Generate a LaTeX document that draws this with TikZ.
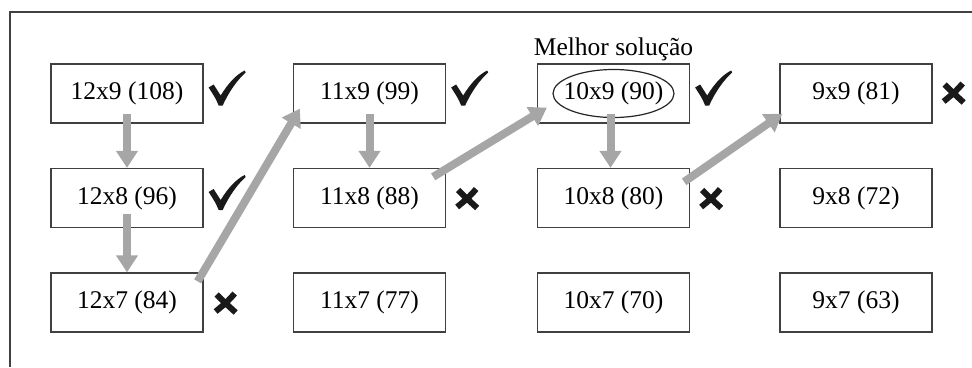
\documentclass[tikz,border=0pt]{standalone}
\usepackage{fontspec}
\setmainfont{Liberation Serif}
\usetikzlibrary{arrows.meta,calc}
\begin{document}
\begin{tikzpicture}[x=1pt,y=-1pt,
  cell/.style={draw=black!75,line width=1.3pt,minimum width=152pt,minimum height=59pt,inner sep=0pt,font=\fontsize{25.5}{28}\selectfont},
  garrow/.style={draw=black!35,line width=8pt,-{Triangle[width=21pt,length=17pt]}},
  okpic/.pic={\fill[black!90] (-18,-1) .. controls (-16,-3) .. (-13,-4) -- (-6,7) .. controls (2,-6) and (10,-14) .. (18,-18) -- (19,-16) .. controls (10,-8) and (2,4) .. (-4,17) -- (-8,17) .. controls (-11,10) .. cycle;},
  nopic/.pic={\draw[black!90,line width=6pt] (-9,-8) .. controls (-2,-1) .. (10,10) (9,-9) .. controls (2,-1) .. (-10,9);}]
\useasboundingbox (0,0) rectangle (972,367);
\draw[black!75,line width=1.8pt] (10,367) -- (10,12) -- (972,12);
% boxes
\node[cell] (a9) at (127,93.5) {12x9 (108)};
\node[cell] (a8) at (127,198) {12x8 (96)};
\node[cell] (a7) at (127,302.5) {12x7 (84)};
\node[cell] (b9) at (369.5,93.5) {11x9 (99)};
\node[cell] (b8) at (369.5,198) {11x8 (88)};
\node[cell] (b7) at (369.5,302.5) {11x7 (77)};
\node[cell] (c9) at (613.5,93.5) {10x9 (90)};
\node[cell] (c8) at (613.5,198) {10x8 (80)};
\node[cell] (c7) at (613.5,302.5) {10x7 (70)};
\node[cell] (d9) at (856,93.5) {9x9 (81)};
\node[cell] (d8) at (856,198) {9x8 (72)};
\node[cell] (d7) at (856,302.5) {9x7 (63)};
\draw[black!85,line width=1.2pt] (c9.center) ellipse (60.5pt and 24pt);
\node[anchor=base,font=\fontsize{25.5}{28}\selectfont,inner sep=0pt] (best) at ([yshift=8pt]c9.north) {Melhor solução};
% marks
\pic at ([xshift=23pt,yshift=5pt]a9.east) {okpic};
\pic at ([xshift=23pt,yshift=5pt]a8.east) {okpic};
\pic at ([xshift=22pt]a7.east) {nopic};
\pic at ([xshift=23pt,yshift=5pt]b9.east) {okpic};
\pic at ([xshift=21pt]b8.east) {nopic};
\pic at ([xshift=23pt,yshift=5pt]c9.east) {okpic};
\pic at ([xshift=21pt]c8.east) {nopic};
\pic at ([xshift=21pt,yshift=1pt]d9.east) {nopic};
% arrows
\draw[garrow] ([yshift=10pt]a9.south) -- (a8.north);
\draw[garrow] ([yshift=14pt]a8.south) -- (a7.north);
\draw[garrow] ([xshift=-6pt,yshift=-9pt]a7.north east) -- ([xshift=7pt,yshift=15pt]b9.south west);
\draw[garrow] ([yshift=10pt]b9.south) -- (b8.north);
\draw[garrow] ([xshift=-13pt,yshift=-9pt]b8.north east) -- ([xshift=10pt,yshift=16pt]c9.south west);
\draw[garrow] ([yshift=10pt,xshift=-3pt]c9.south) -- ([xshift=-3pt]c8.north);
\draw[garrow] ([xshift=-6pt,yshift=-14pt]c8.north east) -- ([xshift=3pt,yshift=10pt]d9.south west);
\end{tikzpicture}
\end{document}
